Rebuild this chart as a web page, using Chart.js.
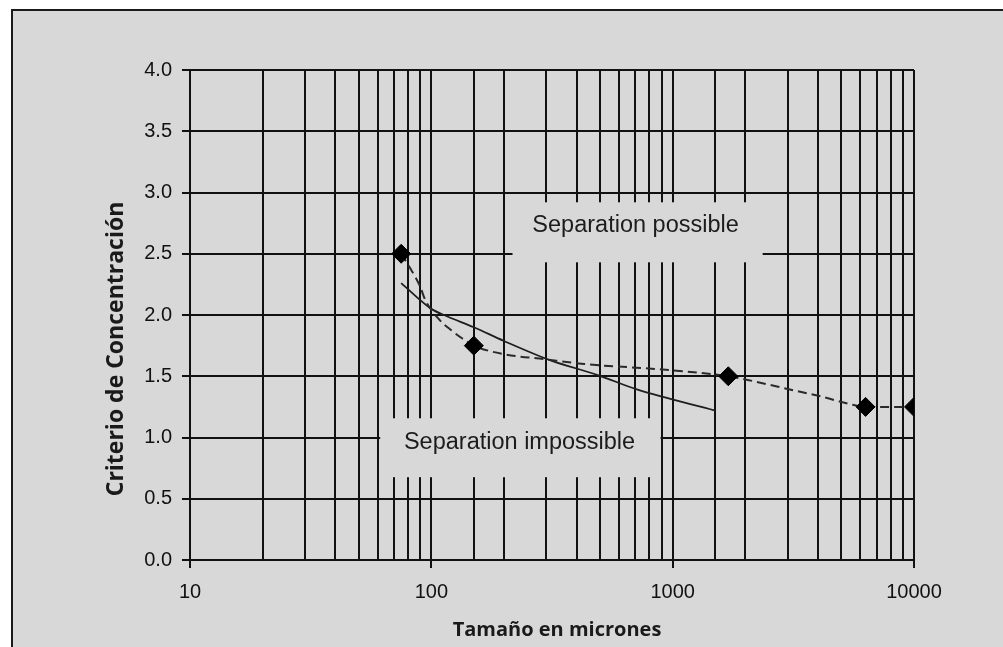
<!DOCTYPE html>
<html><head><meta charset="utf-8">
<script src="https://cdn.jsdelivr.net/npm/chart.js@4.4.0/dist/chart.umd.min.js"></script>
<style>html,body{margin:0;padding:0;background:#fff;overflow:hidden}#wrap{width:1003px;height:647px;position:relative}</style>
</head><body>
<div id="wrap"><canvas id="c" width="1003" height="647"></canvas></div>
<script>
// ---- data ----
const markerX = [75, 150, 1700, 6300, 10000];
const markerY = [2.5, 1.75, 1.5, 1.25, 1.25];
const dashedX = [75, 83, 90, 94, 107, 122, 134, 150, 200, 292, 430, 980, 1700, 2046, 3091, 4113, 5634, 6300, 10000];
const dashedY = [2.5, 2.36, 2.23, 2.13, 1.97, 1.87, 1.81, 1.75, 1.68, 1.64, 1.60, 1.55, 1.5, 1.47, 1.39, 1.335, 1.265, 1.25, 1.25];
const solidX = [75, 100, 116, 150, 199, 312, 489, 716, 1500];
const solidY = [2.26, 2.05, 1.99, 1.90, 1.79, 1.63, 1.51, 1.39, 1.22];
const xTickLabels = [10, 100, 1000, 10000];
const yMin = 0, yMax = 4, yStep = 0.5;
const xTitle = 'Tamaño en micrones';
const yTitle = 'Criterio de Concentración';
const regionLabels = ['Separation possible', 'Separation impossible'];

const toPts = (xs, ys) => xs.map((x, i) => ({x: x, y: ys[i]}));

// layout of the label boxes (in data coordinates)
const boxes = [
  {text: regionLabels[0], x0: 217, x1: 2360, y0: 2.43, y1: 2.92, tx: 702, ty: 2.73},
  {text: regionLabels[1], x0: 61.4, x1: 891, y0: 0.676, y1: 1.157, tx: 232, ty: 0.96}
];
const BG = '#d8d8d8';
const INK = '#111';

const framePlugin = {
  id: 'frame',
  beforeDraw(chart) {
    const c = chart.ctx;
    c.save();
    c.fillStyle = '#fff';
    c.fillRect(0, 0, chart.width, chart.height);
    c.fillStyle = BG;
    c.fillRect(11, 9, chart.width - 11, chart.height - 9);
    c.fillStyle = '#1a1a1a';
    c.fillRect(11, 9, chart.width - 11, 2);
    c.fillRect(11, 9, 2, chart.height - 9);
    c.restore();
  },
  beforeDatasetsDraw(chart) {
    const c = chart.ctx, xs = chart.scales.x, ys = chart.scales.y;
    c.save();
    boxes.forEach(b => {
      const l = xs.getPixelForValue(b.x0), r = xs.getPixelForValue(b.x1);
      const t = ys.getPixelForValue(b.y1), bt = ys.getPixelForValue(b.y0);
      c.fillStyle = BG;
      c.fillRect(l, t, r - l, bt - t);
      c.fillStyle = '#1c1c1c';
      c.font = '23.5px "Liberation Sans", Arial, sans-serif';
      c.textAlign = 'center';
      c.textBaseline = 'middle';
      c.fillText(b.text, xs.getPixelForValue(b.tx), ys.getPixelForValue(b.ty));
    });
    c.restore();
  },
  afterDraw(chart) {
    const c = chart.ctx, a = chart.chartArea;
    c.save();
    c.fillStyle = '#1a1a1a';
    c.textAlign = 'center';
    c.textBaseline = 'middle';
    c.font = 'bold 20px "Open Sans", sans-serif';
    c.fillText(xTitle, (a.left + a.right) / 2 + 5, a.bottom + 70);
    c.translate(a.left - 74, (a.top + a.bottom) / 2 + 34);
    c.rotate(-Math.PI / 2);
    c.font = 'bold 23px "Open Sans", sans-serif';
    c.fillText(yTitle, 0, 0);
    c.restore();
  }
};

new Chart(document.getElementById('c'), {
  type: 'scatter',
  data: {
    datasets: [
      {
        label: 'Puntos',
        data: toPts(markerX, markerY),
        showLine: false,
        pointStyle: 'rectRot',
        pointRadius: 9.5,
        pointBackgroundColor: '#000',
        pointBorderColor: '#000',
        pointBorderWidth: 1
      },
      {
        label: 'Curva discontinua',
        data: toPts(dashedX, dashedY),
        showLine: true,
        borderColor: '#2a2a2a',
        borderWidth: 2,
        borderDash: [9, 5],
        pointRadius: 0,
        cubicInterpolationMode: 'monotone'
      },
      {
        label: 'Curva continua',
        data: toPts(solidX, solidY),
        showLine: true,
        borderColor: '#1e1e1e',
        borderWidth: 1.8,
        pointRadius: 0,
        cubicInterpolationMode: 'monotone'
      }
    ]
  },
  options: {
    responsive: false,
    animation: false,
    devicePixelRatio: 1,
    layout: {padding: {top: 70, right: 89, left: 0, bottom: 0}},
    plugins: {legend: {display: false}, tooltip: {enabled: false}},
    scales: {
      x: {
        type: 'logarithmic',
        min: 10, max: 10000,
        afterFit(s) { s.height = 87; },
        border: {display: true, color: INK, width: 2},
        grid: {
          color: INK, lineWidth: 2, tickLength: 8,
          tickColor: ctx => (ctx.tick && xTickLabels.includes(ctx.tick.value)) ? INK : 'rgba(0,0,0,0)'
        },
        ticks: {
          autoSkip: false, maxRotation: 0, padding: 12,
          color: '#111',
          font: {family: '"Liberation Sans", Arial, sans-serif', size: 20},
          callback: v => xTickLabels.includes(v) ? String(v) : ''
        }
      },
      y: {
        min: yMin, max: yMax,
        afterFit(s) { s.width = 190; },
        border: {display: true, color: INK, width: 2},
        grid: {color: INK, lineWidth: 2, tickLength: 8, tickColor: INK},
        ticks: {
          stepSize: yStep, padding: 10,
          color: '#111',
          font: {family: '"Liberation Sans", Arial, sans-serif', size: 20},
          callback: v => v.toFixed(1)
        }
      }
    }
  },
  plugins: [framePlugin]
});
</script>
</body></html>
